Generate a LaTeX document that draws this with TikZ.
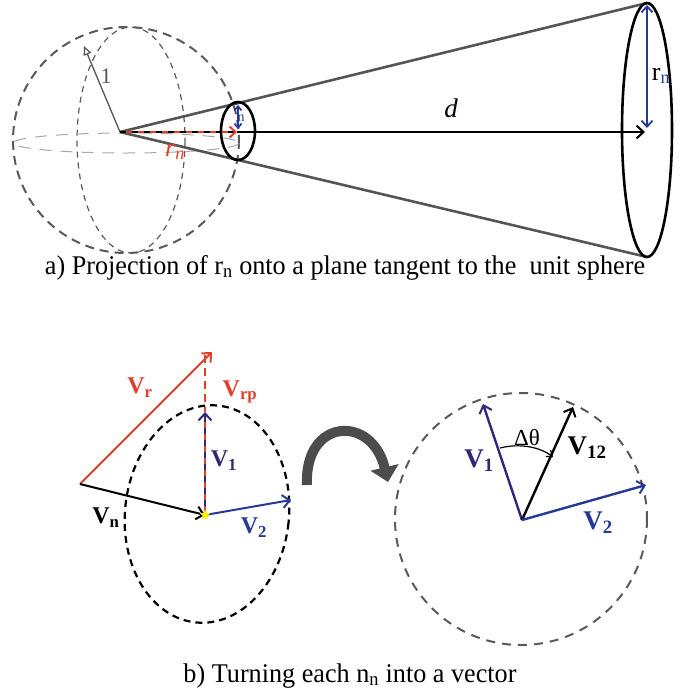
\documentclass[tikz,border=0pt]{standalone}
\usepackage{fontspec}
\setmainfont{Liberation Serif}
\usetikzlibrary{arrows.meta,shapes.geometric}
\definecolor{cred}{RGB}{226,62,40}
\definecolor{cnavy}{RGB}{48,40,120}
\definecolor{cblue}{RGB}{38,56,152}
\definecolor{cgray}{RGB}{85,85,85}
\definecolor{cdash}{RGB}{90,90,90}
\tikzset{
  barb/.style={-{Straight Barb[length=7pt,width=13pt,line width=2pt]}},
  dbarb/.style={{Straight Barb[length=6pt,width=11pt,line width=1.8pt]}-{Straight Barb[length=6pt,width=11pt,line width=1.8pt]}},
  conel/.style={line width=2.6pt,cgray},
  ring/.style={line width=2.6pt,black},
  sphdash/.style={cdash,line width=2pt,dash pattern=on 9pt off 6pt},
  vlab/.style={font=\fontsize{24}{26}\selectfont\bfseries,inner sep=0pt},
  vlabb/.style={font=\fontsize{27}{29}\selectfont\bfseries,inner sep=0pt},
  captxt/.style={font=\fontsize{27}{29}\selectfont,inner sep=0pt,anchor=base,xscale=0.97}
}
\begin{document}
\begin{tikzpicture}[x=1pt,y=-1pt]
\useasboundingbox (0,0) rectangle (680,694);
% ---------------- part a ----------------
\coordinate (O) at (120,132);
\coordinate (T1) at (647,3);
\coordinate (T2) at (647,257);
\coordinate (R1) at (84,46);
\coordinate (S) at (237,132);
\coordinate (E) at (645,132);
\coordinate (RT) at (647,5);
\coordinate (RB) at (647,128);
\coordinate (NT) at (238,105);
\coordinate (NB) at (238,129);
% sphere
\draw[sphdash] (126,140) circle (113);
\draw[cdash,line width=1.2pt,dash pattern=on 6pt off 5pt] (131,140) ellipse (54 and 113);
\draw[gray!70,line width=1pt,dash pattern=on 12pt off 9pt] (126,143) ellipse (113 and 10);
% radius 1
\draw[cgray,line width=1.3pt,-{Triangle[open,length=9pt,width=8pt,line width=1.2pt]}] (O) -- (R1);
\node[text=cgray,font=\fontsize{22}{24}\selectfont,inner sep=0pt] (one) at (106,76) {1};
% cone
\draw[conel] (O) -- (T1);
\draw[conel] (O) -- (T2);
\draw[ring] (647,130) ellipse (25 and 127);
\draw[ring] (238,131) ellipse (17 and 29);
% d arrow
\draw[line width=2.2pt,barb] (S) -- (E);
\node[font=\fontsize{27}{29}\selectfont\itshape,inner sep=0pt] (dl) at (451,108) {d};
% r_n arrows
\draw[cblue,line width=2pt,dbarb] (RT) -- (RB);
\node[inner sep=0pt,font=\fontsize{26}{28}\selectfont] (rnl) at (661,76) {r\textsubscript{\color{cblue}n}};
\draw[cblue,line width=1.8pt,{Straight Barb[length=4pt,width=7pt]}-{Straight Barb[length=4pt,width=7pt]}] (NT) -- (NB);
\node[text=cblue,inner sep=0pt,font=\fontsize{14}{15}\selectfont] (nl) at (241,118) {n};
% red dashed projection
\draw[black,line width=2pt,dash pattern=on 6pt off 6pt] (O) -- (S);
\draw[cred,line width=2pt,dash pattern=on 6pt off 6pt,dash phase=6pt,-{Straight Barb[length=6pt,width=11pt]}] (O) -- (S);
\node[text=cred,inner sep=0pt,font=\fontsize{26}{28}\selectfont\itshape] (rnr) at (175,152) {r\textsubscript{n}};
% caption a
\node[captxt] (capa) at (345,274) {a) Projection of r\textsubscript{n} onto a plane tangent to the\ \ unit sphere};
% ---------------- part b ----------------
\coordinate (A) at (80,484);
\coordinate (C) at (205,515);
\coordinate (VR) at (212,352);
\coordinate (VP) at (205,355);
\coordinate (V1) at (205,412);
\coordinate (V2) at (291,500);
\draw[black,line width=2.2pt,dash pattern=on 7pt off 5pt,rotate around={-6:(207,514)}] (207,514) ellipse (82 and 109);
\draw[cred,line width=2pt,barb] (A) -- (VR);
\draw[cred,line width=2pt,dash pattern=on 8pt off 5pt] (VP) -- (V1);
\draw[cnavy,line width=2pt,barb] (C) -- (V1);
\draw[cred,line width=2pt,dash pattern=on 6pt off 6pt] (205,422) -- (C);
\draw[black,line width=2pt,barb] (A) -- (C);
\draw[cblue,line width=2pt,barb] (C) -- (V2);
\node[star,star points=5,star point ratio=2.2,fill=yellow,minimum size=11pt,inner sep=0pt] (st) at (C) {};
\node[vlab,text=cred] (lvr) at (140,388) {V\textsubscript{r}};
\node[vlab,text=cred] (lvrp) at (240,392) {V\textsubscript{rp}};
\node[vlab,text=cnavy] (lv1) at (224,461) {V\textsubscript{1}};
\node[vlab,text=black] (lvn) at (106,518) {V\textsubscript{n}};
\node[vlab,text=cblue] (lv2) at (254,528) {V\textsubscript{2}};
% curved arrow
\coordinate (CA1) at (307,485);
\coordinate (CA2) at (388,482);
\draw[cgray!90!black,line width=10pt,-{Triangle[length=15pt,width=28pt]}] (CA1) .. controls (304,418) and (372,414) .. (CA2);
% right circle
\coordinate (P) at (522,520);
\coordinate (W1) at (483,404);
\coordinate (W12) at (573,407);
\coordinate (W2) at (646,485);
\draw[cdash,line width=2pt,dash pattern=on 9pt off 7pt] (521,519) circle (126);
\draw[cnavy,line width=2.4pt,barb] (P) -- (W1);
\draw[black,line width=2.4pt,barb] (P) -- (W12);
\draw[cblue,line width=2.4pt,barb] (P) -- (W2);
\coordinate (TA) at (500,448);
\coordinate (TB) at (553,457);
\draw[black,line width=1.2pt,-{Straight Barb[length=5pt,width=8pt]}] (TA) .. controls (520,443) and (540,447) .. (TB);
\node[inner sep=0pt,font=\fontsize{23}{25}\selectfont] (dt) at (527,438) {Δθ};
\node[vlabb,text=cnavy] (rv1) at (479,461) {V\textsubscript{1}};
\node[vlabb,text=black] (rv12) at (587,448) {V\textsubscript{12}};
\node[vlabb,text=cblue] (rv2) at (598,523) {V\textsubscript{2}};
% caption b
\node[captxt] (capb) at (350,682) {b) Turning each n\textsubscript{n} into a vector};
\end{tikzpicture}
\end{document}
